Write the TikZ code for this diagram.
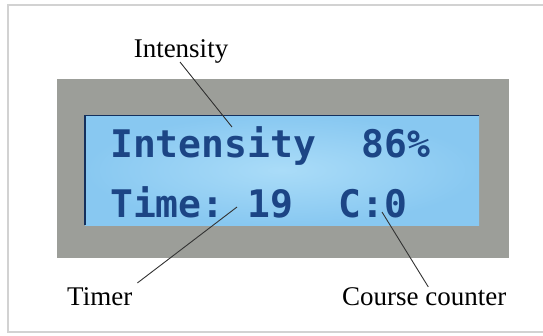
\documentclass[tikz,border=0pt]{standalone}
\usepackage{fontspec}
\setmainfont{Liberation Serif}
\newfontfamily\lcdfont{DejaVu Sans Mono}[BoldFont={* Bold}]
\definecolor{framegray}{HTML}{D2D2D2}
\definecolor{panelgray}{HTML}{9C9E99}
\definecolor{lcdout}{HTML}{88C8F1}
\definecolor{lcdin}{HTML}{AADCF8}
\definecolor{lcdtext}{HTML}{1C4585}
\definecolor{leader}{HTML}{333333}
\tikzset{
  lbl/.style={inner sep=0pt, font=\fontsize{27}{30}\selectfont, text=black},
  lcd/.style={inner sep=0pt, font=\lcdfont\bfseries\fontsize{38}{40}\selectfont, text=lcdtext},
  leadline/.style={draw=leader, line width=0.9pt}
}
\begin{document}
\begin{tikzpicture}[x=1pt,y=-1pt]
\useasboundingbox (0,0) rectangle (543,335);
\fill[white] (0,0) rectangle (543,335);
% outer frame
\draw[framegray, line width=1.5pt] (548,5) -- (8,5) -- (8,332) -- (548,332);
% gray panel
\fill[panelgray] (57,79) rectangle (509,258);
% LCD
\shade[inner color=lcdin, outer color=lcdout] (85,115) rectangle (479,225);
\draw[draw=lcdtext!70!black, line width=1.2pt] (85,225) -- (85,115.5) -- (479,115.5);
% LCD text
\node[lcd, anchor=base west] (l1) at (110,157) {Intensity~~86\%};
\node[lcd, anchor=base west] (l2) at (110,217) {Time:~19~~C:0};
% labels
\node[lbl, anchor=base] (lint) at (181,57) {Intensity};
\node[lbl, anchor=base west] (ltim) at (67,305) {Timer};
\node[lbl, anchor=base west] (lcc) at (342,305) {Course counter};
% leader ends
\coordinate (pint) at (232,127);
\coordinate (ptim) at (237,207);
\coordinate (pcc) at (382,212);
\draw[leadline] ([xshift=-1pt,yshift=1pt]lint.south) -- (pint);
\draw[leadline] ([xshift=5pt,yshift=4pt]ltim.north east) -- (ptim);
\draw[leadline] ([xshift=4pt]lcc.north) -- (pcc);
\end{tikzpicture}
\end{document}
